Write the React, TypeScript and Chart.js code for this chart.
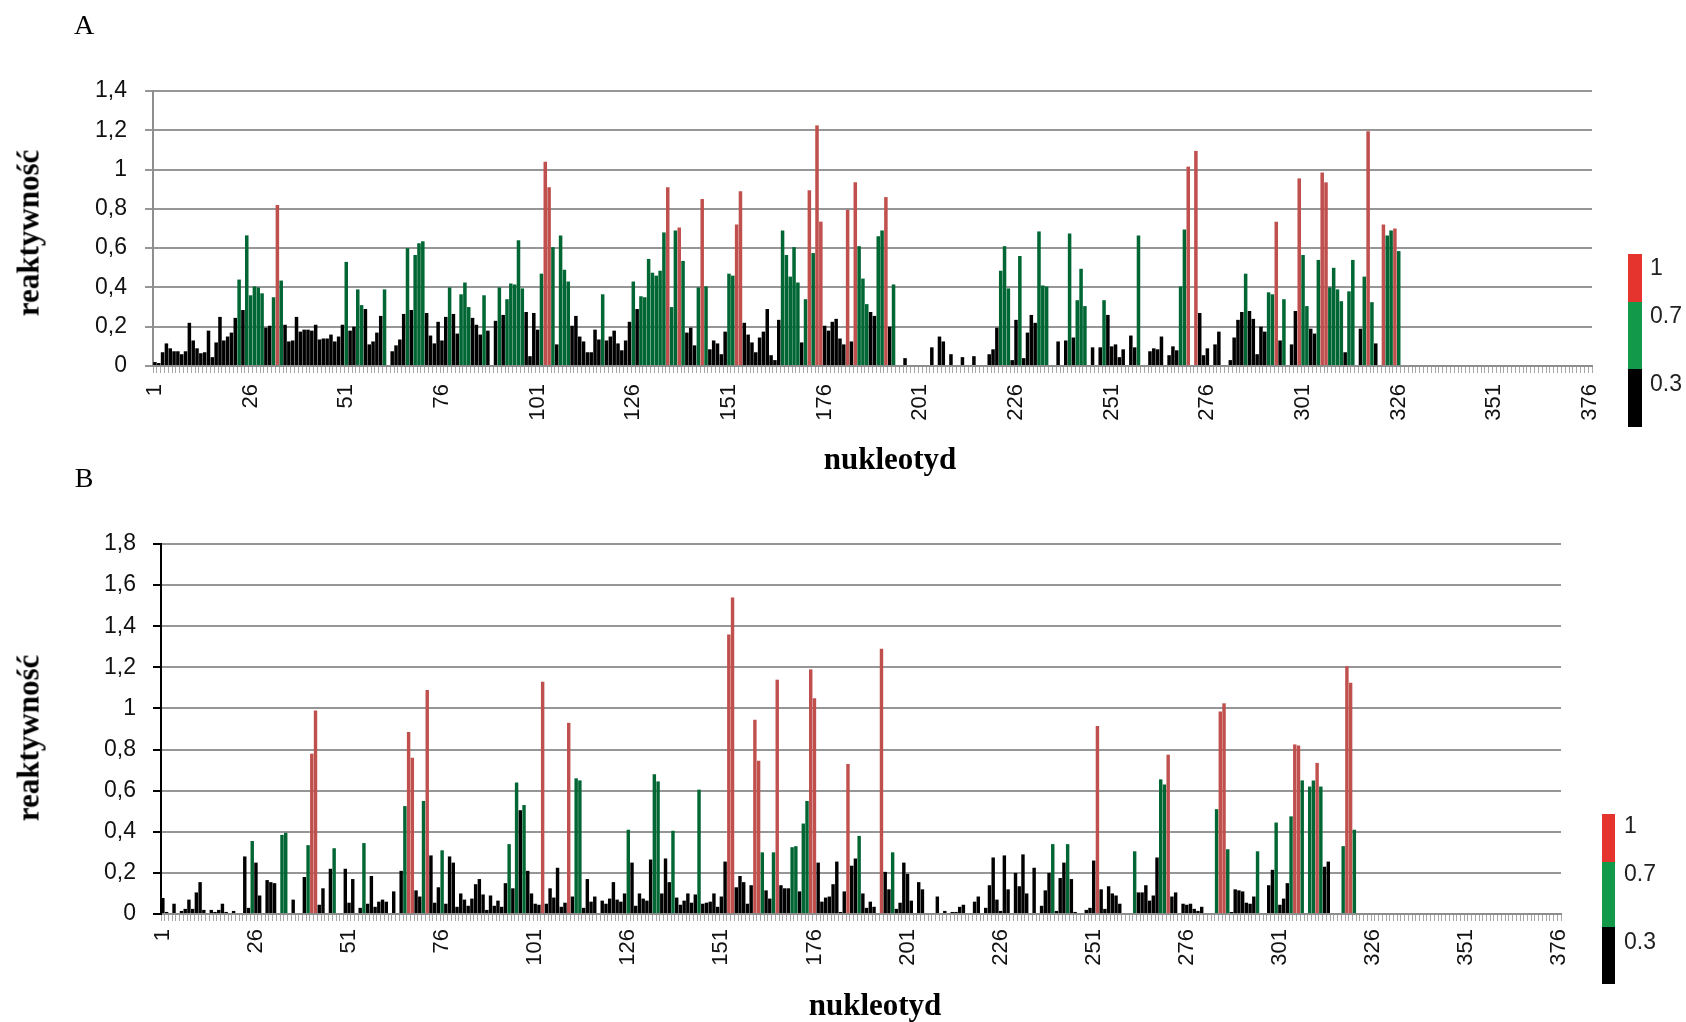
import React, { useEffect, useRef } from 'react';
import { Chart, registerables } from 'chart.js';

Chart.register(...registerables);

// ---------- DATA ----------
// nucleotide positions on the category axis (1..376)
const categories: string[] = Array.from({ length: 376 }, (_, i) => String(i + 1));
// category labels that are printed under the axis
const shownTickLabels = ['1', '26', '51', '76', '101', '126', '151', '176', '201', '226', '251', '276', '301', '326', '351', '376'];

// panel A – reactivity per nucleotide (positions 1..326)
const reactivityA: number[] = [
  0.02, 0.015, 0.07, 0.115, 0.09, 0.075, 0.075, 0.06, 0.075, 0.22,
  0.13, 0.09, 0.065, 0.07, 0.18, 0.045, 0.12, 0.25, 0.13, 0.15,
  0.17, 0.245, 0.44, 0.285, 0.665, 0.36, 0.405, 0.40, 0.37, 0.195,
  0.205, 0.35, 0.82, 0.435, 0.21, 0.125, 0.13, 0.25, 0.175, 0.185,
  0.185, 0.18, 0.21, 0.135, 0.14, 0.14, 0.16, 0.125, 0.15, 0.21,
  0.53, 0.18, 0.2, 0.39, 0.31, 0.29, 0.11, 0.125, 0.17, 0.255,
  0.39, 0, 0.075, 0.105, 0.135, 0.265, 0.6, 0.285, 0.565, 0.625,
  0.635, 0.27, 0.155, 0.115, 0.225, 0.13, 0.25, 0.40, 0.265, 0.165,
  0.365, 0.425, 0.30, 0.245, 0.21, 0.16, 0.36, 0.18, 0, 0.23,
  0.40, 0.26, 0.34, 0.42, 0.415, 0.64, 0.395, 0.275, 0.05, 0.27,
  0.185, 0.47, 1.04, 0.91, 0.605, 0.11, 0.665, 0.49, 0.43, 0.205,
  0.255, 0.15, 0.125, 0.07, 0.07, 0.185, 0.135, 0.365, 0.13, 0.15,
  0.18, 0.115, 0.08, 0.13, 0.225, 0.43, 0.29, 0.355, 0.35, 0.545,
  0.475, 0.46, 0.485, 0.68, 0.91, 0.30, 0.69, 0.705, 0.535, 0.17,
  0.195, 0.105, 0.40, 0.85, 0.405, 0.085, 0.13, 0.115, 0.06, 0.175,
  0.47, 0.46, 0.72, 0.89, 0.22, 0.16, 0.12, 0.07, 0.145, 0.175,
  0.29, 0.055, 0.03, 0.235, 0.69, 0.565, 0.455, 0.605, 0.425, 0.12,
  0.34, 0.895, 0.575, 1.225, 0.735, 0.205, 0.18, 0.225, 0.24, 0.14,
  0.11, 0.795, 0.125, 0.935, 0.61, 0.445, 0.315, 0.275, 0.255, 0.66,
  0.69, 0.86, 0.2, 0.415, 0, 0.005, 0.04, 0, 0, 0,
  0, 0, 0, 0.095, 0, 0.15, 0.125, 0, 0.06, 0,
  0, 0.045, 0, 0, 0.05, 0, 0, 0, 0.06, 0.085,
  0.195, 0.485, 0.61, 0.395, 0.03, 0.235, 0.56, 0.04, 0.17, 0.26,
  0.22, 0.685, 0.41, 0.405, 0, 0, 0.125, 0, 0.13, 0.675,
  0.145, 0.335, 0.495, 0.305, 0, 0.095, 0, 0.095, 0.335, 0.26,
  0.10, 0.11, 0.045, 0.085, 0, 0.155, 0.095, 0.665, 0, 0,
  0.075, 0.09, 0.085, 0.15, 0, 0.055, 0.10, 0.08, 0.405, 0.695,
  1.015, 0, 1.095, 0.27, 0.055, 0.09, 0, 0.11, 0.175, 0,
  0, 0.03, 0.145, 0.235, 0.275, 0.47, 0.28, 0.24, 0.06, 0.20,
  0.175, 0.375, 0.365, 0.735, 0.13, 0.34, 0, 0.11, 0.28, 0.955,
  0.565, 0.305, 0.19, 0.165, 0.54, 0.985, 0.935, 0.40, 0.50, 0.39,
  0.33, 0.07, 0.38, 0.54, 0, 0.19, 0.455, 1.195, 0.325, 0.115,
  0, 0.72, 0.665, 0.69, 0.70, 0.585,
];

// panel B – reactivity per nucleotide (positions 1..321)
const reactivityB: number[] = [
  0.078, 0.01, 0, 0.05, 0, 0.015, 0.025, 0.07, 0.025, 0.105,
  0.155, 0.02, 0, 0.02, 0.01, 0.02, 0.05, 0.01, 0, 0.015,
  0, 0, 0.28, 0.03, 0.355, 0.25, 0.09, 0, 0.165, 0.155,
  0.15, 0, 0.385, 0.395, 0, 0.07, 0, 0, 0.18, 0.335,
  0.78, 0.99, 0.045, 0.125, 0, 0.22, 0.32, 0, 0, 0.22,
  0.055, 0.17, 0, 0.03, 0.345, 0.05, 0.185, 0.035, 0.06, 0.07,
  0.06, 0, 0.11, 0, 0.21, 0.525, 0.885, 0.76, 0.115, 0.085,
  0.55, 1.09, 0.285, 0.055, 0.13, 0.31, 0.05, 0.28, 0.25, 0.035,
  0.10, 0.07, 0.04, 0.075, 0.145, 0.17, 0.095, 0.02, 0.09, 0.04,
  0.065, 0.035, 0.15, 0.34, 0.125, 0.64, 0.505, 0.53, 0.21, 0.10,
  0.05, 0.045, 1.13, 0.05, 0.125, 0.08, 0.225, 0.035, 0.055, 0.93,
  0.085, 0.66, 0.65, 0.03, 0.17, 0.06, 0.085, 0, 0.065, 0.05,
  0.075, 0.155, 0.07, 0.06, 0.10, 0.41, 0.25, 0.04, 0.10, 0.075,
  0.065, 0.265, 0.68, 0.645, 0.10, 0.27, 0.155, 0.405, 0.08, 0.045,
  0.065, 0.10, 0.055, 0.095, 0.605, 0.05, 0.055, 0.06, 0.10, 0.035,
  0.085, 0.255, 1.36, 1.54, 0.13, 0.185, 0.155, 0.05, 0.14, 0.945,
  0.745, 0.30, 0.115, 0.075, 0.30, 1.14, 0.14, 0.125, 0.125, 0.325,
  0.33, 0.11, 0.44, 0.55, 1.19, 1.05, 0.25, 0.06, 0.08, 0.085,
  0.145, 0.255, 0.01, 0.11, 0.73, 0.235, 0.27, 0.38, 0.10, 0.03,
  0.06, 0.035, 0, 1.29, 0.205, 0.12, 0.30, 0.025, 0.055, 0.25,
  0.195, 0.065, 0, 0.155, 0.12, 0.005, 0.005, 0, 0.085, 0,
  0.015, 0, 0.01, 0.01, 0.035, 0.045, 0, 0.005, 0.06, 0.085,
  0, 0.03, 0.14, 0.275, 0.07, 0.015, 0.285, 0.12, 0, 0.2,
  0.135, 0.29, 0.10, 0, 0.225, 0, 0.04, 0.115, 0.20, 0.34,
  0.015, 0.175, 0.25, 0.34, 0.17, 0.01, 0, 0, 0.02, 0.03,
  0.26, 0.915, 0.12, 0.025, 0.135, 0.10, 0.09, 0.05, 0.005, 0,
  0, 0.305, 0.105, 0.105, 0.14, 0.065, 0.09, 0.275, 0.655, 0.63,
  0.775, 0.085, 0.105, 0, 0.05, 0.045, 0.05, 0.025, 0.015, 0.035,
  0, 0, 0, 0.51, 0.985, 1.025, 0.315, 0.01, 0.12, 0.115,
  0.11, 0.055, 0.05, 0.085, 0.305, 0, 0, 0.14, 0.215, 0.445,
  0.045, 0.075, 0.15, 0.475, 0.825, 0.82, 0.65, 0, 0.62, 0.65,
  0.735, 0.62, 0.23, 0.255, 0, 0, 0, 0.33, 1.205, 1.125,
  0.41,
];

// positions in panel B that are drawn in the low class despite their value
const lowClassPositionsB: number[] = [97];
const lowClassPositionsA: number[] = [];

// colour-scale thresholds (legend)
const scaleThresholds = { mid: 0.3, high: 0.7 };
const legendLabels = ['1', '0.7', '0.3'];

// ---------- STYLE ----------
const BAR_RED = '#C0504D';
const BAR_GREEN = '#006633';
const BAR_BLACK = '#000000';
const LEG_RED = '#E5342D';
const LEG_GREEN = '#12994A';
const LEG_BLACK = '#000000';

const TICK_FONT = "'Liberation Sans', Arial, sans-serif";
const TITLE_FONT = "'Liberation Serif', 'Times New Roman', serif";

function barColor(v: number, forcedLow: boolean): string {
  if (forcedLow) return BAR_BLACK;
  if (v >= scaleThresholds.high) return BAR_RED;
  if (v >= scaleThresholds.mid) return BAR_GREEN;
  return BAR_BLACK;
}

function commaLabel(v: number): string {
  const r = Math.round(v * 10) / 10;
  return String(r).replace('.', ',');
}

interface PanelGeom {
  top: number;
  height: number;
  areaLeft: number;
  areaRight: number;
  areaTop: number;
  areaBottom: number;
}

interface PanelProps {
  values: number[];
  lowPositions: number[];
  yMax: number;
  geom: PanelGeom;
  yAxisColor: string;
  yTickMarkColor: string;
  yLabelPad: number;
  xLabelPad: number;
}

const W = 1686;
const X_AXIS_H = 60;

function BarPanel(p: PanelProps) {
  const ref = useRef<HTMLCanvasElement | null>(null);
  useEffect(() => {
    if (!ref.current) return;
    const g = p.geom;
    const colors = p.values.map((v, i) => barColor(v, p.lowPositions.includes(i + 1)));
    const chart = new Chart(ref.current, {
      type: 'bar',
      data: {
        labels: categories,
        datasets: [
          {
            data: p.values,
            backgroundColor: colors,
            borderWidth: 0,
            barPercentage: 0.92,
            categoryPercentage: 1,
          },
        ],
      },
      options: {
        animation: false,
        responsive: false,
        devicePixelRatio: 1,
        events: [],
        layout: {
          padding: {
            top: g.areaTop,
            left: 0,
            right: W - g.areaRight,
            bottom: g.height - g.areaBottom - X_AXIS_H,
          },
        },
        plugins: {
          legend: { display: false },
          tooltip: { enabled: false },
          title: { display: false },
        },
        scales: {
          x: {
            type: 'category',
            offset: true,
            grid: {
              display: true,
              drawOnChartArea: false,
              drawTicks: true,
              tickLength: 7,
              color: '#a8a8a8',
              tickColor: '#a8a8a8',
              lineWidth: 1,
            },
            border: { display: true, color: '#8e8e8e', width: 2 },
            ticks: {
              autoSkip: false,
              minRotation: 90,
              maxRotation: 90,
              padding: p.xLabelPad,
              color: '#111111',
              font: { family: TICK_FONT, size: 22 },
              callback: (_v: any, idx: number) => {
                const lab = categories[idx];
                return shownTickLabels.includes(lab) ? lab : '';
              },
            },
            afterFit: (s: any) => {
              s.height = X_AXIS_H;
            },
          },
          y: {
            min: 0,
            max: p.yMax,
            grid: {
              color: '#969696',
              lineWidth: 2,
              drawTicks: true,
              tickLength: 8,
              tickColor: p.yTickMarkColor,
            },
            border: { display: true, color: p.yAxisColor, width: 2 },
            ticks: {
              stepSize: 0.2,
              padding: p.yLabelPad,
              color: '#111111',
              font: { family: TICK_FONT, size: 23 },
              callback: (v: any) => commaLabel(Number(v)),
            },
            afterFit: (s: any) => {
              s.width = g.areaLeft;
            },
          },
        },
      },
    });
    return () => chart.destroy();
  }, []);
  return (
    <canvas
      ref={ref}
      width={W}
      height={p.geom.height}
      style={{ position: 'absolute', left: 0, top: p.geom.top, width: W, height: p.geom.height, display: 'block' }}
    />
  );
}

function Text(props: { x: number; y: number; text: string; size: number; bold?: boolean; rotate?: boolean; family: string; color?: string; anchor?: 'center' | 'left' }) {
  const { x, y, text, size, bold, rotate, family, color, anchor } = props;
  const tx = anchor === 'left' ? '0' : '-50%';
  return (
    <div
      style={{
        position: 'absolute',
        left: x,
        top: y,
        fontFamily: family,
        fontSize: size,
        fontWeight: bold ? 'bold' : 'normal',
        lineHeight: 1,
        whiteSpace: 'nowrap',
        color: color || '#000',
        transform: `translate(${tx}, -50%)${rotate ? ' rotate(-90deg)' : ''}`,
        transformOrigin: anchor === 'left' ? 'left center' : 'center center',
        zIndex: 2,
      }}
    >
      {text}
    </div>
  );
}

function ColorScale(props: { left: number; width: number; bounds: number[]; labelLeft: number; labelY: number[] }) {
  const { left, width, bounds, labelLeft, labelY } = props;
  const cols = [LEG_RED, LEG_GREEN, LEG_BLACK];
  return (
    <>
      {cols.map((c, i) => (
        <div
          key={c}
          style={{ position: 'absolute', left, top: bounds[i], width, height: bounds[i + 1] - bounds[i], background: c, zIndex: 2 }}
        />
      ))}
      {legendLabels.map((t, i) => (
        <Text key={t} x={labelLeft} y={labelY[i]} text={t} size={23} family={TICK_FONT} color="#222" anchor="left" />
      ))}
    </>
  );
}

export default function App() {
  const geomA: PanelGeom = { top: 0, height: 480, areaLeft: 153, areaRight: 1592, areaTop: 91, areaBottom: 366 };
  const geomB: PanelGeom = { top: 480, height: 542, areaLeft: 161, areaRight: 1561, areaTop: 64, areaBottom: 434 };
  return (
    <div style={{ position: 'absolute', left: 0, top: 0, width: W, height: 1022, background: '#fff', overflow: 'hidden' }}>
      <BarPanel
        values={reactivityA}
        lowPositions={lowClassPositionsA}
        yMax={1.4}
        geom={geomA}
        yAxisColor="#8e8e8e"
        yTickMarkColor="#969696"
        yLabelPad={18}
        xLabelPad={11}
      />
      <BarPanel
        values={reactivityB}
        lowPositions={lowClassPositionsB}
        yMax={1.8}
        geom={geomB}
        yAxisColor="#000000"
        yTickMarkColor="#000000"
        yLabelPad={17}
        xLabelPad={8}
      />
      <Text x={84} y={25} text="A" size={28} family={TITLE_FONT} />
      <Text x={84} y={478} text="B" size={28} family={TITLE_FONT} />
      <Text x={28} y={233} text="reaktywność" size={31} bold rotate family={TITLE_FONT} />
      <Text x={28} y={738} text="reaktywność" size={31} bold rotate family={TITLE_FONT} />
      <Text x={890} y={458} text="nukleotyd" size={31} bold family={TITLE_FONT} />
      <Text x={875} y={1004} text="nukleotyd" size={31} bold family={TITLE_FONT} />
      <ColorScale left={1628} width={14} bounds={[254, 302, 369, 427]} labelLeft={1650} labelY={[267, 315, 383]} />
      <ColorScale left={1602} width={13} bounds={[814, 862, 927, 984]} labelLeft={1624} labelY={[825, 873, 941]} />
    </div>
  );
}
